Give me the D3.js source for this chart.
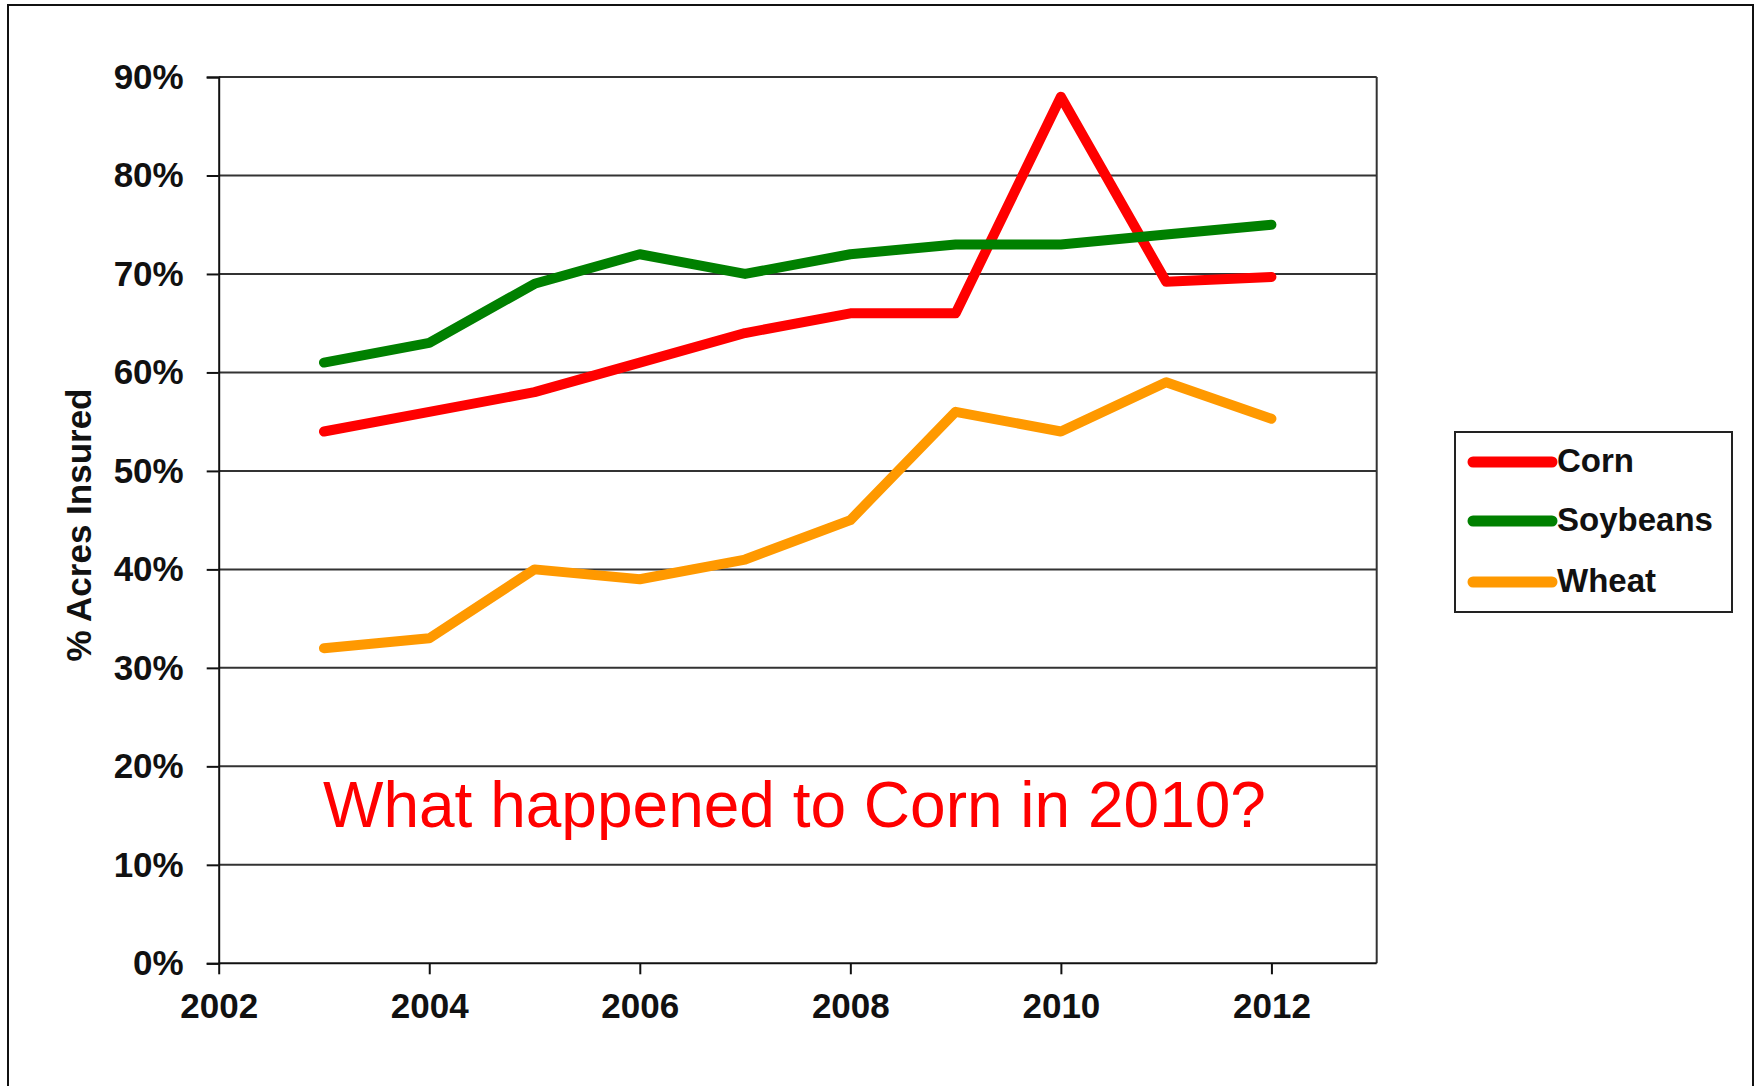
<!DOCTYPE html>
<html><head><meta charset="utf-8">
<script src="https://cdn.jsdelivr.net/npm/d3@7"></script>
<style>body{margin:0;background:#fff;}svg{display:block;font-family:"Liberation Sans",Arial,sans-serif;}</style>
</head><body>
<svg id="chart" width="1761" height="1086"></svg>
<script>
const years = [2003,2004,2005,2006,2007,2008,2009,2010,2011,2012];
const corn = [54,56,58,61,64,66,66,88,69.2,69.7];
const soybeans = [61,63,69,72,70,72,73,73,74,75];
const wheat = [32,33,40,39,41,45,56,54,59,55.3];
const seriesNames = ["Corn","Soybeans","Wheat"];
const seriesColors = ["#ff0000","#008000","#ff9900"];
const xTicks = [2002,2004,2006,2008,2010,2012];
const yTicks = [0,10,20,30,40,50,60,70,80,90];
const yTitle = "% Acres Insured";
const note = "What happened to Corn in 2010?";

const svg = d3.select("#chart");
const L = 218.7, R = 1376.7, T = 77, B = 963.3;
const x = d3.scaleLinear().domain([2002,2013]).range([L,R]);
const y = d3.scaleLinear().domain([0,90]).range([B,T]);

// outer border
svg.append("rect").attr("x",8).attr("y",5).attr("width",1745).attr("height",1100)
  .attr("fill","none").attr("stroke","#111").attr("stroke-width",2);

// gridlines
svg.append("g").selectAll("line").data(yTicks.filter(d=>d>0)).join("line")
  .attr("x1",L).attr("x2",R).attr("y1",d=>y(d)).attr("y2",d=>y(d))
  .attr("stroke","#333").attr("stroke-width",2);
// right frame
svg.append("line").attr("x1",R).attr("x2",R).attr("y1",T).attr("y2",B)
  .attr("stroke","#333").attr("stroke-width",2);

// y axis
const yAxis = svg.append("g").attr("transform",`translate(${L},0)`)
  .call(d3.axisLeft(y).tickValues(yTicks).tickSize(12).tickPadding(23).tickFormat(d=>d+"%"));
yAxis.select(".domain").attr("stroke","#111").attr("stroke-width",2);
yAxis.selectAll(".tick line").attr("stroke","#111").attr("stroke-width",2);
yAxis.selectAll(".tick text").attr("font-size",35).attr("font-weight","bold").attr("fill","#111")
  .attr("font-family","Liberation Sans, Arial, sans-serif").attr("dy","0.32em");

// x axis
const xAxis = svg.append("g").attr("transform",`translate(0,${B})`)
  .call(d3.axisBottom(x).tickValues(xTicks).tickSize(11).tickPadding(0).tickFormat(d3.format("d")));
xAxis.select(".domain").attr("d",`M${L},0H${R}`).attr("stroke","#111").attr("stroke-width",2);
xAxis.selectAll(".tick line").attr("stroke","#111").attr("stroke-width",2);
xAxis.selectAll(".tick text").attr("font-size",35).attr("font-weight","bold").attr("fill","#111")
  .attr("font-family","Liberation Sans, Arial, sans-serif").attr("dy",null).attr("y",55);

// y title
svg.append("text").attr("transform","translate(91,525) rotate(-90)")
  .attr("text-anchor","middle").attr("font-size",35).attr("font-weight","bold").attr("fill","#111")
  .text(yTitle);

// lines
const data = [corn,soybeans,wheat];
const line = d3.line().x((d,i)=>x(years[i])).y(d=>y(d));
svg.append("g").selectAll("path").data(data).join("path")
  .attr("d",line).attr("fill","none")
  .attr("stroke",(d,i)=>seriesColors[i]).attr("stroke-width",10)
  .attr("stroke-linejoin","round").attr("stroke-linecap","round");

// annotation
svg.append("text").attr("x",323).attr("y",827).attr("font-size",64).attr("fill","#ff0000").text(note);

// legend
const lg = svg.append("g");
lg.append("rect").attr("x",1455).attr("y",432).attr("width",277).attr("height",180)
  .attr("fill","#fff").attr("stroke","#222").attr("stroke-width",2);
const ly = [462,521,582];
seriesNames.forEach((n,i)=>{
  lg.append("line").attr("x1",1473).attr("x2",1552).attr("y1",ly[i]).attr("y2",ly[i])
    .attr("stroke",seriesColors[i]).attr("stroke-width",11).attr("stroke-linecap","round");
  lg.append("text").attr("x",1557).attr("y",ly[i]+10).attr("font-size",33).attr("font-weight","bold")
    .attr("fill","#111").text(n);
});
</script>
</body></html>
